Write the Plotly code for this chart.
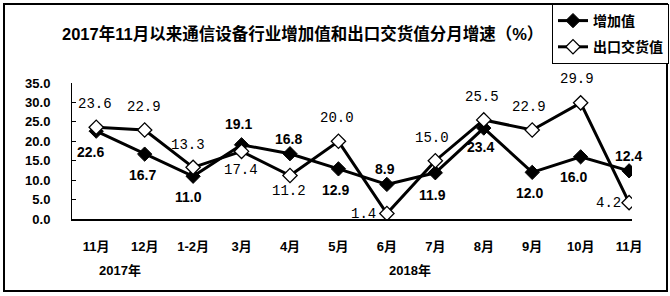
import plotly.graph_objects as go

categories = ["11月", "12月", "1-2月", "3月", "4月", "5月", "6月", "7月", "8月", "9月", "10月", "11月"]
added_value = [22.6, 16.7, 11.0, 19.1, 16.8, 12.9, 8.9, 11.9, 23.4, 12.0, 16.0, 12.4]
export_value = [23.6, 22.9, 13.3, 17.4, 11.2, 20.0, 1.4, 15.0, 25.5, 22.9, 29.9, 4.2]
y_ticks = [0, 5, 10, 15, 20, 25, 30, 35]
year_labels = ["2017年", "2018年"]

# label offsets in pixels (dx, dy with dy downward)
added_off = [(-6, 21), (-2, 21), (-5, 21), (-3, -21), (-1, -15), (-3, 21),
             (-2, -15), (-3, 22), (-3, 19), (-3, 21), (-7, 20), (-1, -15)]
export_off = [(-1, -23), (-1, -23), (-5, -22), (-1, 19), (-1, 16), (-1, -23),
              (-23, 0), (-3, -23), (-2, -23), (-3, -23), (-4, -24), (-21, 0)]
year_pos = [0.5, 6.48]

SANS = "Liberation Sans, Noto Sans CJK SC, sans-serif"
MONO = "Liberation Mono, monospace"

xi = list(range(len(categories)))

fig = go.Figure()
fig.add_trace(go.Scatter(
    x=xi, y=added_value, name="增加值", mode="lines+markers",
    line=dict(color="black", width=3),
    marker=dict(symbol="diamond", size=11, color="black", line=dict(color="black", width=1)),
    legendgroup="a",
))
fig.add_trace(go.Scatter(
    x=xi, y=export_value, name="出口交货值", mode="lines+markers",
    line=dict(color="black", width=3),
    marker=dict(symbol="diamond", size=11, color="white", line=dict(color="black", width=1.3)),
    legendgroup="b",
))

anns = []
for i, v in enumerate(added_value):
    dx, dy = added_off[i]
    anns.append(dict(x=i, y=v, xref="x", yref="y", text=f"{v:.1f}", showarrow=False,
                     xshift=dx, yshift=-dy, xanchor="center", yanchor="middle",
                     font=dict(family=SANS, size=14, color="black", weight="bold")))
for i, v in enumerate(export_value):
    dx, dy = export_off[i]
    anns.append(dict(x=i, y=v, xref="x", yref="y", text=f"{v:.1f}", showarrow=False,
                     xshift=dx, yshift=-dy, xanchor="center", yanchor="middle",
                     font=dict(family=MONO, size=14, color="black")))
for lab, xp in zip(year_labels, year_pos):
    anns.append(dict(x=xp, y=-0.375, xref="x", yref="paper", text=lab, showarrow=False,
                     xanchor="center", yanchor="middle",
                     font=dict(family=SANS, size=13, color="black", weight="bold")))
anns.append(dict(x=(302 - 72) / 560, y=(219 - 33) / 136, xref="paper", yref="paper",
                 text="2017年11月以来通信设备行业增加值和出口交货值分月增速（%）",
                 showarrow=False, xanchor="center", yanchor="middle",
                 font=dict(family=SANS, size=16.5, color="black", weight="bold")))

fig.update_layout(
    width=670, height=296,
    margin=dict(l=72, r=38, t=83, b=77, autoexpand=False),
    paper_bgcolor="white", plot_bgcolor="white",
    showlegend=True,
    legend=dict(x=(552 - 72) / 560, y=(219 - 4) / 136, xanchor="left", yanchor="top",
                bordercolor="black", borderwidth=1, bgcolor="white",
                font=dict(family=SANS, size=14, color="black", weight="bold"),
                itemwidth=30, tracegroupgap=5),
    annotations=anns,
    shapes=[dict(type="rect", xref="paper", yref="paper",
                 x0=(4 - 72) / 560, x1=(667 - 72) / 560,
                 y0=(219 - 291) / 136, y1=(219 - 4) / 136,
                 line=dict(color="black", width=2), layer="below")],
)
fig.update_xaxes(
    range=[-0.5, 11.06], tickmode="array", tickvals=xi, ticktext=categories,
    showline=True, linecolor="black", linewidth=2, ticks="", showgrid=False, zeroline=False,
    tickfont=dict(family=SANS, size=13, color="black", weight="bold"),
    ticklabelstandoff=14,
)
fig.update_yaxes(
    range=[0, 35], tickmode="array", tickvals=y_ticks, ticktext=[f"{t:.1f}" for t in y_ticks],
    showline=True, linecolor="black", linewidth=1, ticks="inside", ticklen=4, tickcolor="black",
    showgrid=False, zeroline=False,
    tickfont=dict(family=SANS, size=13, color="black", weight="bold"),
    ticklabelstandoff=18,
)

fig.write_html("out.html")
